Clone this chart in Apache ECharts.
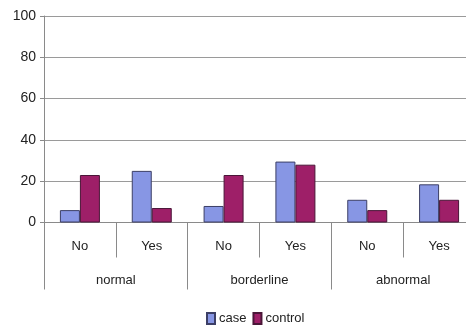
<!DOCTYPE html>
<html>
<head>
<meta charset="utf-8">
<script src="https://cdn.jsdelivr.net/npm/echarts@6/dist/echarts.min.js"></script>
<style>
  html, body { margin: 0; padding: 0; background: #fff; overflow: hidden; }
  /* the plot runs slightly past the right edge of the window */
  #chart { width: 480px; height: 327px; }
</style>
</head>
<body>
<div id="chart"></div>
<script>
// Inner categories (answer) and outer groups
const answers = ['No', 'Yes', 'No', 'Yes', 'No', 'Yes'];
const groups = ['normal', 'borderline', 'abnormal'];
const yTicks = [0, 20, 40, 60, 80, 100];

// Percentages per answer within each group
const caseValues = [6, 25, 8, 29.5, 11, 18.5];
const controlValues = [23, 7, 23, 28, 6, 11];

const font = 'Liberation Sans, Arial, sans-serif';
const chart = echarts.init(document.getElementById('chart'));

chart.setOption({
  animation: false,
  grid: { left: 44, top: 16, height: 206.5, width: 431, containLabel: false },
  legend: {
    left: 201, top: 307,
    icon: 'rect',
    itemWidth: 8, itemHeight: 11, itemGap: 6,
    textStyle: { fontFamily: font, fontSize: 13, color: '#222', padding: [0, 0, 0, -1] },
    data: ['case', 'control']
  },
  xAxis: [
    {
      type: 'category',
      data: answers,
      position: 'bottom',
      axisLine: { show: true, lineStyle: { color: '#8a8a8a', width: 1 } },
      axisTick: { show: true, interval: 0, length: 35, lineStyle: { color: '#8a8a8a' } },
      axisLabel: { interval: 0, margin: 17, fontFamily: font, fontSize: 13, color: '#222' }
    },
    {
      type: 'category',
      data: groups,
      position: 'bottom',
      offset: 0,
      axisLine: { show: false },
      axisTick: { show: true, interval: 0, length: 67, lineStyle: { color: '#8a8a8a' } },
      axisLabel: { interval: 0, margin: 51, fontFamily: font, fontSize: 13, color: '#222' }
    }
  ],
  yAxis: {
    type: 'value',
    min: yTicks[0], max: yTicks[yTicks.length - 1], interval: 20,
    axisLine: { show: true, lineStyle: { color: '#8a8a8a' } },
    axisTick: { show: true, length: 4, lineStyle: { color: '#8a8a8a' } },
    axisLabel: { margin: 8, fontFamily: font, fontSize: 14, color: '#222' },
    splitLine: { show: true, lineStyle: { color: '#9a9a9a', width: 1 } }
  },
  series: [
    {
      name: 'case', type: 'bar', xAxisIndex: 0,
      data: caseValues,
      barWidth: 20, barGap: '0%',
      itemStyle: { color: '#8796e4', borderColor: '#3c3f66', borderWidth: 1 }
    },
    {
      name: 'control', type: 'bar', xAxisIndex: 0,
      data: controlValues,
      barWidth: 20,
      itemStyle: { color: '#9e1f68', borderColor: '#4a1638', borderWidth: 1 }
    }
  ]
});
</script>
</body>
</html>
